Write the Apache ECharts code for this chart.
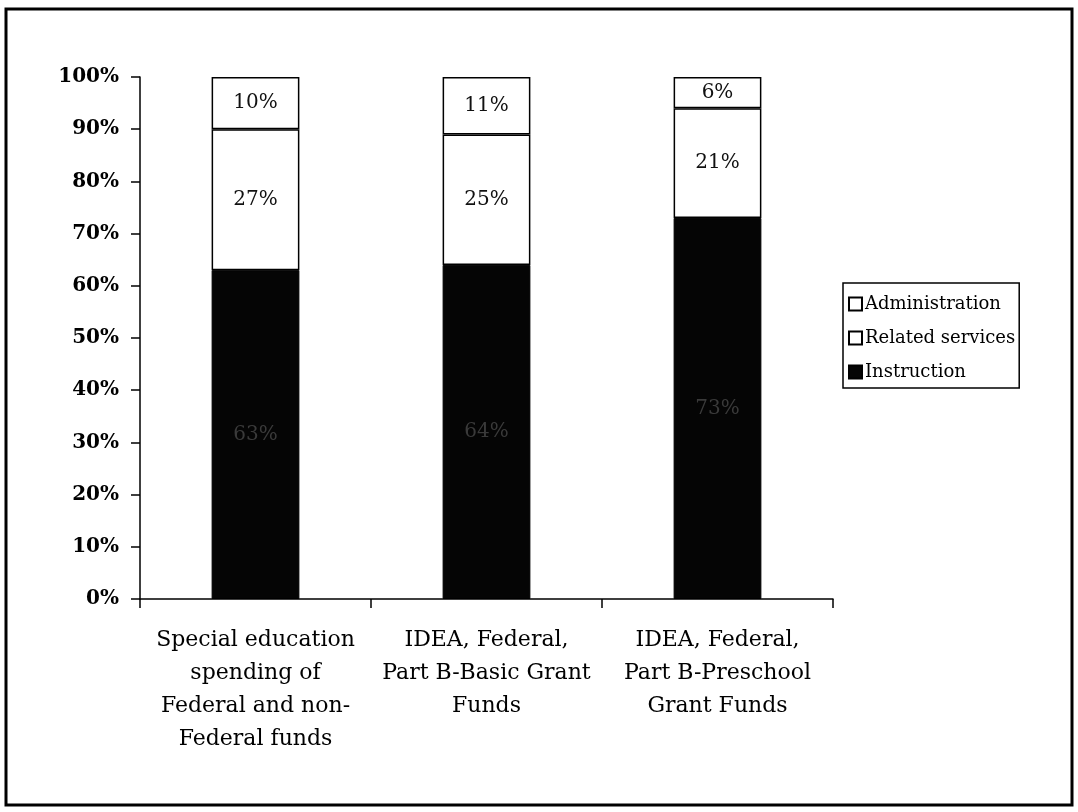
<!DOCTYPE html>
<html>
<head>
<meta charset="utf-8">
<script src="https://cdn.jsdelivr.net/npm/echarts@6/dist/echarts.min.js"></script>
<style>
html, body { margin: 0; padding: 0; background: #fff; }
#chart { width: 1078px; height: 812px; }
</style>
</head>
<body>
<div id="chart"></div>
<script>
var categories = [
	'Special education\nspending of\nFederal and non-\nFederal funds',
	'IDEA, Federal,\nPart B-Basic Grant\nFunds',
	'IDEA, Federal,\nPart B-Preschool\nGrant Funds'
];
var instruction = [63, 64, 73];
var relatedServices = [27, 25, 21];
var administration = [10, 11, 6];
var yTicks = [0, 10, 20, 30, 40, 50, 60, 70, 80, 90, 100];

var serif = '"DejaVu Serif", "Liberation Serif", serif';

function chartInit(objId){
	var dom = document.getElementById(objId);
	var myChart = echarts.init(dom, null, {renderer: 'canvas'});
	var labelStyle = {
		show: true,
		position: 'inside',
		formatter: '{c}%',
		fontFamily: serif,
		fontSize: 20,
		color: '#111'
	};
	var option = {
		animation: false,
		backgroundColor: '#fff',
		graphic: [{
			type: 'rect',
			shape: {x: 6, y: 9, width: 1066, height: 796},
			style: {fill: 'none', stroke: '#000', lineWidth: 3}
		}],
		legend: {
			orient: 'vertical',
			left: 843,
			top: 283,
			padding: [12, 4, 7, 5],
			itemGap: 16,
			itemWidth: 13,
			itemHeight: 13,
			borderColor: '#000',
			borderWidth: 1.5,
			icon: 'rect',
			data: ['Administration', 'Related services', 'Instruction'],
			textStyle: {fontFamily: serif, fontSize: 18, color: '#000', padding: [0, 0, 0, -2]}
		},
		grid: {
			left: 140,
			right: 245,
			top: 77,
			bottom: 213
		},
		xAxis: {
			type: 'category',
			data: categories,
			axisLine: {lineStyle: {color: '#000', width: 1.5}},
			axisTick: {show: true, length: 9, lineStyle: {color: '#000', width: 1.5}},
			axisLabel: {
				interval: 0,
				margin: 25,
				fontFamily: serif,
				fontSize: 22,
				lineHeight: 33,
				color: '#000'
			}
		},
		yAxis: {
			type: 'value',
			min: 0,
			max: 100,
			interval: 10,
			splitLine: {show: false},
			axisLine: {show: true, lineStyle: {color: '#000', width: 1.5}},
			axisTick: {show: true, length: 9, lineStyle: {color: '#000', width: 1.5}},
			axisLabel: {
				margin: 21,
				fontFamily: serif,
				fontSize: 20,
				fontWeight: 'bold',
				color: '#000',
				formatter: function (v) { return yTicks.indexOf(v) >= 0 ? v + '%' : ''; }
			}
		},
		series: [
			{
				name: 'Instruction',
				type: 'bar',
				stack: 'total',
				barWidth: '38%',
				data: instruction,
				itemStyle: {color: '#050505', borderColor: '#000', borderWidth: 1},
				label: Object.assign({}, labelStyle, {color: '#3a3a3a'})
			},
			{
				name: 'Related services',
				type: 'bar',
				stack: 'total',
				data: relatedServices,
				itemStyle: {color: '#fff', borderColor: '#000', borderWidth: 1.5},
				label: labelStyle
			},
			{
				name: 'Administration',
				type: 'bar',
				stack: 'total',
				data: administration,
				itemStyle: {color: '#fff', borderColor: '#000', borderWidth: 1.5},
				label: labelStyle
			}
		]
	};
	myChart.setOption(option, true);
	return myChart;
}

chartInit('chart');
</script>
</body>
</html>
